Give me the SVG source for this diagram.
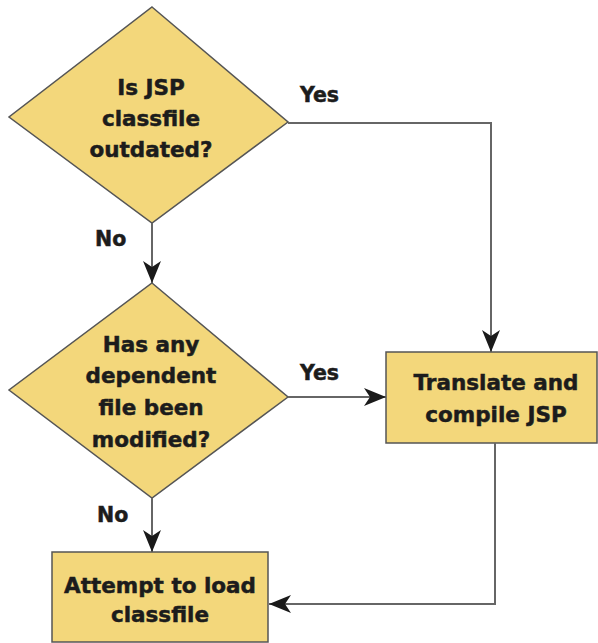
<svg xmlns="http://www.w3.org/2000/svg" width="598" height="643" viewBox="0 0 598 643">
<style>
.shape{fill:#f3d77b;stroke:#555;stroke-width:1.5}
.t{font-family:"DejaVu Sans","Liberation Sans",sans-serif;font-weight:bold;font-size:21.5px;fill:#1c1c1c;stroke:#1c1c1c;stroke-width:0.5;text-anchor:middle}
.lbl{font-family:"DejaVu Sans","Liberation Sans",sans-serif;font-weight:bold;font-size:20.5px;fill:#1c1c1c;stroke:#1c1c1c;stroke-width:0.5}
.c{fill:none;stroke:#666;stroke-width:2}
</style>
<defs>
<marker id="ah" viewBox="0 0 22 18" refX="22" refY="9" markerWidth="22" markerHeight="18" markerUnits="userSpaceOnUse" orient="auto">
<path d="M0,0 L22,9 L0,18 L6,9 Z" fill="#1a1a1a"/>
</marker>
</defs>
<rect width="598" height="643" fill="#fff"/>
<g id="d1">
<polygon class="shape" points="152,7 288,122 152,223 9,117"/>
<text class="t" x="151" y="95">Is JSP</text>
<text class="t" x="151" y="126">classfile</text>
<text class="t" x="151" y="157">outdated?</text>
</g>
<g id="d2">
<polygon class="shape" points="152,283 288,397 152,498 9,390"/>
<text class="t" x="151" y="352">Has any</text>
<text class="t" x="151" y="383">dependent</text>
<text class="t" x="151" y="415">file been</text>
<text class="t" x="151" y="447">modified?</text>
</g>
<g id="translate">
<rect class="shape" x="386" y="352" width="211" height="91"/>
<text class="t" x="496" y="390">Translate and</text>
<text class="t" x="496" y="422">compile JSP</text>
</g>
<g id="attempt">
<rect class="shape" x="52" y="552" width="216" height="90"/>
<text class="t" x="160" y="593">Attempt to load</text>
<text class="t" x="160" y="622">classfile</text>
</g>
<g id="connectors">
<path class="c" d="M288,123 H491 V352" marker-end="url(#ah)"/>
<path class="c" d="M152,223 V283" marker-end="url(#ah)"/>
<path class="c" d="M288,397 H386" marker-end="url(#ah)"/>
<path class="c" d="M152,498 V552" marker-end="url(#ah)"/>
<path class="c" d="M495,443 V604 H269" marker-end="url(#ah)"/>
<text class="lbl" x="300" y="102">Yes</text>
<text class="lbl" x="95" y="246">No</text>
<text class="lbl" x="300" y="380">Yes</text>
<text class="lbl" x="97" y="522">No</text>
</g>
</svg>
